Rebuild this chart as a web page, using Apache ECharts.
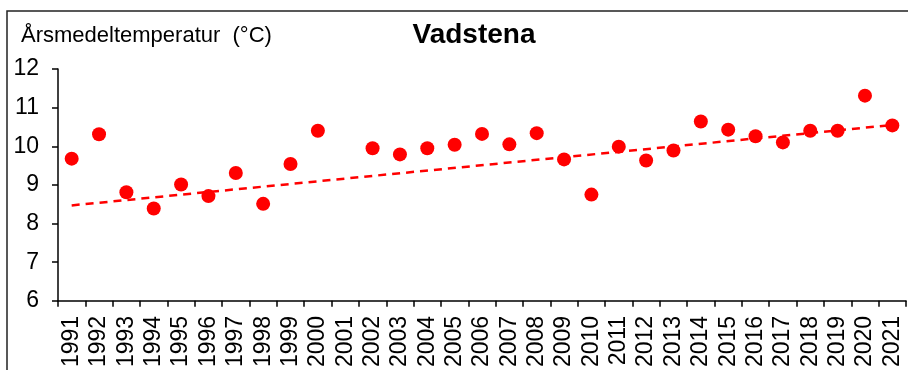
<!DOCTYPE html>
<html>
<head>
<meta charset="utf-8">
<script src="https://cdn.jsdelivr.net/npm/echarts@6/dist/echarts.min.js"></script>
<style>html,body{margin:0;padding:0;background:#fff;}#c{width:908px;height:370px;}</style>
</head>
<body>
<div id="c"></div>
<script>
const years = ['1991','1992','1993','1994','1995','1996','1997','1998','1999','2000','2001','2002','2003','2004','2005','2006','2007','2008','2009','2010','2011','2012','2013','2014','2015','2016','2017','2018','2019','2020','2021'];
const temps = [9.68,10.31,8.81,8.39,9.01,8.71,9.31,8.51,9.54,10.40,null,9.95,9.79,9.95,10.04,10.32,10.05,10.34,9.66,8.75,9.99,9.63,9.89,10.64,10.43,10.26,10.10,10.40,10.40,11.31,10.54];
const trendYears = ['1991','2021'];
const trendValues = [8.47,10.55];
const yTicks = {min: 6, max: 12, interval: 1};
const titleText = 'Vadstena';
const yName = 'Årsmedeltemperatur  (°C)';

const font = '"Liberation Sans", Arial, sans-serif';
const chart = echarts.init(document.getElementById('c'));
chart.setOption({
  animation: false,
  backgroundColor: '#fff',
  title: [
    {text: titleText, left: 474, top: 21, textAlign: 'center', padding: 0,
     textStyle: {fontFamily: font, fontSize: 28, fontWeight: 'bold', color: '#000'}},
    {text: yName, left: 21, top: 25, padding: 0,
     textStyle: {fontFamily: font, fontSize: 22, fontWeight: 'normal', color: '#000'}}
  ],
  graphic: [{
    type: 'rect', silent: true,
    shape: {x: 7, y: 11, width: 1000, height: 500},
    style: {fill: 'none', stroke: '#222', lineWidth: 1.5}
  }],
  grid: {left: 58, right: 2, top: 69, bottom: 68, containLabel: false},
  xAxis: {
    type: 'category', data: years, boundaryGap: true,
    axisLine: {lineStyle: {color: '#000', width: 1.5}},
    axisTick: {show: true, length: 6, lineStyle: {color: '#000', width: 1.5}},
    axisLabel: {rotate: 90, interval: 0, margin: 15, fontFamily: font, fontSize: 23, color: '#000'},
    splitLine: {show: false}
  },
  yAxis: {
    type: 'value', min: yTicks.min, max: yTicks.max, interval: yTicks.interval,
    axisLine: {show: true, lineStyle: {color: '#000', width: 1.5}},
    axisTick: {show: true, length: 6, lineStyle: {color: '#000', width: 1.5}},
    axisLabel: {margin: 19, fontFamily: font, fontSize: 23, color: '#000'},
    splitLine: {show: false}
  },
  series: [
    {type: 'scatter', data: temps.map(v => v === null ? '-' : v), symbol: 'circle', symbolSize: 14,
     itemStyle: {color: '#ff0000', opacity: 1}, z: 2},
    {type: 'line', data: trendYears.map((y, i) => [y, trendValues[i]]), symbol: 'none',
     lineStyle: {color: '#ff0000', width: 2.5, type: [8, 6]}, z: 3}
  ]
});
</script>
</body>
</html>
